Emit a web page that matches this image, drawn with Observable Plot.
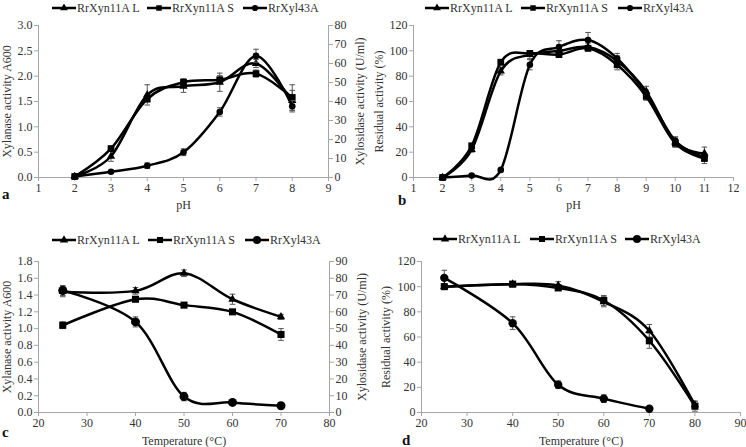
<!DOCTYPE html>
<html><head><meta charset="utf-8">
<script src="https://cdn.jsdelivr.net/npm/d3@7"></script>
<script src="https://cdn.jsdelivr.net/npm/@observablehq/plot@0.6"></script>
<style>
body{margin:0;background:#fff;}
#root{position:relative;width:746px;height:447px;overflow:hidden;font-family:"Liberation Serif","Times New Roman",serif;color:#333;}
.letter{position:absolute;font-weight:bold;font-size:15px;line-height:15px;color:#111;}
</style></head><body><div id="root"></div>
<script>
// ---------- data ----------
const seriesNames = ["RrXyn11A L", "RrXyn11A S", "RrXyl43A"];

// panel a: pH optimum (left: xylanase A600, right: xylosidase U/ml)
const phA = [2, 3, 4, 5, 6, 7, 8];
const aL = [0.02, 0.42, 1.63, 1.80, 1.88, 2.25, 1.52];
const aLerr = [0.02, 0.10, 0.20, 0.12, 0.18, 0.08, 0.20];
const aS = [0.02, 0.57, 1.55, 1.88, 1.93, 2.05, 1.58];
const aSerr = [0.02, 0.05, 0.06, 0.07, 0.08, 0.07, 0.25];
const aX = [0.5, 3.0, 6.2, 13.3, 34.5, 64, 37.5];
const aXerr = [0.3, 0.5, 1.5, 1.8, 2.2, 3.5, 3.0];
const aXTicks = [1, 2, 3, 4, 5, 6, 7, 8, 9];
const aYTicks = [0, 0.5, 1.0, 1.5, 2.0, 2.5, 3.0];
const aRTicks = [0, 10, 20, 30, 40, 50, 60, 70, 80];

// panel b: pH stability (%)
const phB = [2, 3, 4, 5, 6, 7, 8, 9, 10, 11];
const bL = [0, 22, 84, 97, 100, 103, 92, 68, 28, 19];
const bLerr = [0.5, 2, 3, 3, 3, 3, 4, 4, 4, 5];
const bS = [0, 25, 91, 98, 97, 102, 89, 64, 27, 15];
const bSerr = [0.5, 2, 2, 2, 2, 2, 4, 3, 3, 4];
const bX = [0, 1.5, 6, 89, 103, 108.5, 94, 66, 29, 16];
const bXerr = [0.5, 1, 1, 4, 5, 6, 4, 3, 3, 3];
const bXTicks = [1, 2, 3, 4, 5, 6, 7, 8, 9, 10, 11, 12];
const bYTicks = [0, 20, 40, 60, 80, 100, 120];

// panel c: temperature optimum
const tC = [25, 40, 50, 60, 70];
const cL = [1.44, 1.45, 1.66, 1.35, 1.14];
const cLerr = [0.06, 0.04, 0.04, 0.06, 0.03];
const cS = [1.04, 1.35, 1.28, 1.20, 0.93];
const cSerr = [0.04, 0.02, 0.02, 0.02, 0.07];
const cX = [72.7, 54, 9.5, 6, 4];
const cXerr = [3, 3, 2.5, 0.8, 0.5];
const cXTicks = [20, 30, 40, 50, 60, 70, 80];
const cYTicks = [0, 0.2, 0.4, 0.6, 0.8, 1.0, 1.2, 1.4, 1.6, 1.8];
const cRTicks = [0, 10, 20, 30, 40, 50, 60, 70, 80, 90];

// panel d: thermostability (%)
const tD = [25, 40, 50, 60, 70, 80];
const dL = [100, 102, 101, 88, 65, 6];
const dLerr = [2, 2, 3, 4, 5, 3];
const dS = [100, 102, 99, 89, 57, 5];
const dSerr = [1, 2, 2, 4, 6, 4];
const tDX = [25, 40, 50, 60, 70];
const dX = [107, 71, 22, 11, 3];
const dXerr = [6, 5, 3, 3, 1];
const dXTicks = [20, 30, 40, 50, 60, 70, 80, 90];
const dYTicks = [0, 20, 40, 60, 80, 100, 120];

// ---------- drawing ----------
const root = document.getElementById("root");
const FONT = '"Liberation Serif","Times New Roman",serif';
const AX = "#a6a6a6", TX = "#333", EC = "#555";
const cap = {draw(ctx, size) { const w = Math.sqrt(size / Math.PI); ctx.moveTo(-w, 0); ctx.lineTo(w, 0); }};
const symMap = {triangle: d3.symbolTriangle, square: d3.symbolSquare, circle: d3.symbolCircle};

function series(xs, ys, es, sym, r) {
  return {data: xs.map((x, i) => ({x, y: ys[i], e: es[i]})), sym, r};
}
function errMarks(s) {
  const d = s.data;
  return [
    Plot.ruleX(d, {x: "x", y1: v => v.y - v.e, y2: v => v.y + v.e, stroke: EC, strokeWidth: 1}),
    Plot.dot(d, {x: "x", y: v => v.y + v.e, symbol: cap, r: 2.8, stroke: EC, strokeWidth: 1, fill: "none"}),
    Plot.dot(d, {x: "x", y: v => v.y - v.e, symbol: cap, r: 2.8, stroke: EC, strokeWidth: 1, fill: "none"})
  ];
}
function lineMarks(s) {
  return [Plot.line(s.data, {x: "x", y: "y", curve: "cardinal", stroke: "#000", strokeWidth: 2.5})];
}
function dotMarks(s) {
  return [Plot.dot(s.data, {x: "x", y: "y", symbol: s.sym, r: s.r, fill: "#000", stroke: "none"})];
}
function allMarks(list) {
  return [...list.flatMap(errMarks), ...list.flatMap(lineMarks), ...list.flatMap(dotMarks)];
}
function place(el, left, top) {
  el.style.position = "absolute"; el.style.left = left + "px"; el.style.top = top + "px";
  root.appendChild(el);
}

function panel(c) {
  const common = {width: c.w, height: c.h, marginTop: c.mt, marginBottom: c.mb, marginLeft: c.ml, marginRight: c.mr,
    style: {fontFamily: FONT, fontSize: "12px", background: "transparent", color: TX}};
  const main = Plot.plot({...common,
    x: {domain: c.xd}, y: {domain: c.yd},
    marks: [
      Plot.ruleY([c.yd[0]], {stroke: AX}),
      Plot.ruleX([c.xd[0]], {stroke: AX}),
      Plot.axisX({ticks: c.xt, tickSize: 4, tickPadding: 2, stroke: AX, fill: TX, label: null, tickFormat: d => String(d)}),
      Plot.axisY({ticks: c.yt, tickSize: 4, tickPadding: 2, stroke: AX, fill: TX, label: null, tickFormat: c.yf}),
      ...allMarks(c.left),
      Plot.text([c.xl], {frameAnchor: "bottom", textAnchor: "middle", lineAnchor: "middle", dy: c.xldy, text: d => d, fill: TX, fontSize: 12}),
      Plot.text([c.yl], {frameAnchor: "left", textAnchor: "middle", lineAnchor: "middle", dx: c.yldx, rotate: -90, text: d => d, fill: TX, fontSize: 12})
    ]});
  place(main, c.x0, c.y0);
  if (c.right) {
    const r = c.right;
    const ov = Plot.plot({...common,
      x: {domain: c.xd, axis: null}, y: {domain: r.yd},
      marks: [
        Plot.ruleX([c.xd[1]], {stroke: AX}),
        Plot.axisY({anchor: "right", ticks: r.yt, tickSize: 4, tickPadding: 2, stroke: AX, fill: TX, label: null, tickFormat: d => String(d)}),
        ...allMarks(r.series),
        Plot.text([r.label], {frameAnchor: "right", textAnchor: "middle", lineAnchor: "middle", dx: r.dx, rotate: -90, text: d => d, fill: TX, fontSize: 12})
      ]});
    place(ov, c.x0, c.y0);
  }
  // legend
  const syms = ["triangle", "square", "circle"];
  seriesNames.forEach((name, i) => {
    const div = document.createElement("div");
    div.style.cssText = `position:absolute;left:${c.lgx[i]}px;top:${c.lgy - 7}px;height:14px;line-height:14px;display:flex;align-items:center;font-size:12px;white-space:nowrap;color:${TX};`;
    const sv = d3.create("svg").attr("width", 24).attr("height", 12).style("display", "block");
    sv.append("line").attr("x1", 0).attr("x2", 24).attr("y1", 6).attr("y2", 6).attr("stroke", "#000").attr("stroke-width", 2.5);
    sv.append("path").attr("transform", "translate(12,6)").attr("d", d3.symbol(symMap[syms[i]], c.lgs[i])()).attr("fill", "#000");
    div.appendChild(sv.node());
    const sp = document.createElement("span"); sp.textContent = name; sp.style.marginLeft = "1px";
    div.appendChild(sp);
    root.appendChild(div);
  });
  const L = document.createElement("div");
  L.className = "letter"; L.textContent = c.letter;
  L.style.left = c.letterPos[0] + "px"; L.style.top = c.letterPos[1] + "px";
  root.appendChild(L);
}

const f1 = d3.format(".1f");

panel({x0: 0, y0: 0, w: 373, h: 215, mt: 25, mb: 38, ml: 38, mr: 45,
  xd: [1, 9], yd: [0, 3], xt: aXTicks, yt: aYTicks, yf: f1,
  left: [series(phA, aL, aLerr, "triangle", 3.1), series(phA, aS, aSerr, "square", 3.8)],
  right: {yd: [0, 80], yt: aRTicks, series: [series(phA, aX, aXerr, "circle", 3.3)], label: "Xylosidase activity (U/ml)", dx: 32},
  xl: "pH", xldy: 28, yl: "Xylanase activity A600", yldx: -31,
  lgx: [52, 147, 243], lgy: 8, lgs: [26, 30, 30], letter: "a", letterPos: [2, 187]});

panel({x0: 373, y0: 0, w: 373, h: 215, mt: 25, mb: 38, ml: 40, mr: 13,
  xd: [1, 12], yd: [0, 120], xt: bXTicks, yt: bYTicks, yf: d => String(d),
  left: [series(phB, bL, bLerr, "triangle", 3.1), series(phB, bS, bSerr, "square", 3.8), series(phB, bX, bXerr, "circle", 3.3)],
  xl: "pH", xldy: 28, yl: "Residual activity (%)", yldx: -34,
  lgx: [425, 521, 618], lgy: 8, lgs: [26, 30, 30], letter: "b", letterPos: [398, 193]});

panel({x0: 0, y0: 223, w: 373, h: 224, mt: 38, mb: 35, ml: 38, mr: 44,
  xd: [20, 80], yd: [0, 1.8], xt: cXTicks, yt: cYTicks, yf: f1,
  left: [series(tC, cL, cLerr, "triangle", 3.1), series(tC, cS, cSerr, "square", 4.0)],
  right: {yd: [0, 90], yt: cRTicks, series: [series(tC, cX, cXerr, "circle", 4.5)], label: "Xylosidase activity (U/ml)", dx: 33},
  xl: "Temperature (°C)", xldy: 29, yl: "Xylanase activity A600", yldx: -31,
  lgx: [52, 148, 245], lgy: 240, lgs: [30, 36, 50], letter: "c", letterPos: [2, 425]});

panel({x0: 373, y0: 223, w: 373, h: 224, mt: 38, mb: 35, ml: 48, mr: 6,
  xd: [20, 90], yd: [0, 120], xt: dXTicks, yt: dYTicks, yf: d => String(d),
  left: [series(tD, dL, dLerr, "triangle", 3.1), series(tD, dS, dSerr, "square", 4.0), series(tDX, dX, dXerr, "circle", 4.2)],
  xl: "Temperature (°C)", xldy: 29, yl: "Residual activity (%)", yldx: -35,
  lgx: [433, 530, 625], lgy: 239, lgs: [30, 36, 50], letter: "d", letterPos: [402, 433]});
</script></body></html>
